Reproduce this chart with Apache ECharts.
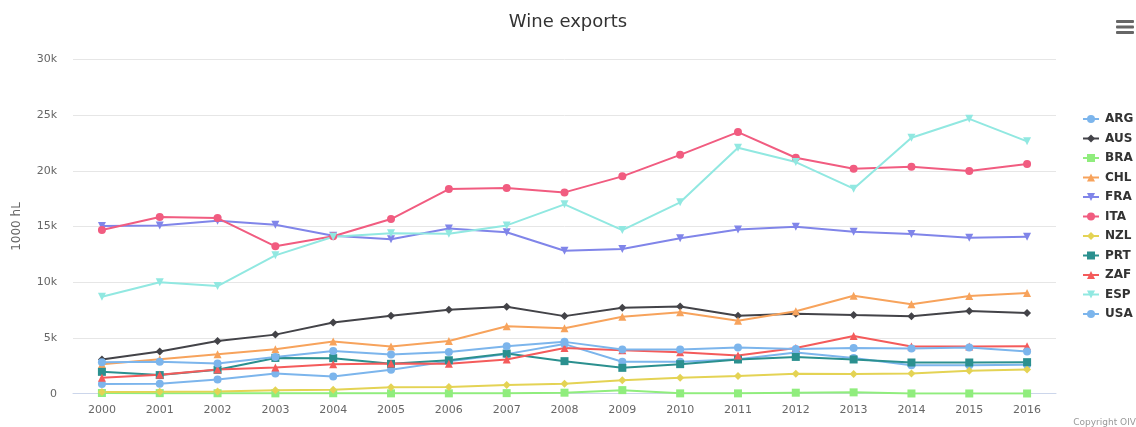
<!DOCTYPE html>
<html>
<head>
<meta charset="utf-8">
<title>Wine exports</title>
<script src="https://cdn.jsdelivr.net/npm/echarts@6/dist/echarts.min.js"></script>
<style>
  html, body { margin: 0; padding: 0; background: #fff; }
  #chart { width: 1136px; height: 427px; }
</style>
</head>
<body>
<div id="chart"></div>
<script>
// Wine exports by country, in thousands of hectolitres
const years = ['2000','2001','2002','2003','2004','2005','2006','2007','2008',
               '2009','2010','2011','2012','2013','2014','2015','2016'];

const ARG = [870, 890, 1280, 1820, 1550, 2140, 2900, 3550, 4450, 2860, 2860, 3100, 3700, 3210, 2560, 2560, 2600];
const AUS = [3070, 3790, 4730, 5300, 6380, 7000, 7540, 7800, 6960, 7710, 7830, 7000, 7180, 7050, 6940, 7410, 7230];
const BRA = [60, 50, 40, 30, 40, 30, 30, 50, 90, 320, 30, 30, 90, 120, 20, 20, 20];
const CHL = [2650, 3100, 3540, 3990, 4680, 4230, 4730, 6050, 5870, 6910, 7300, 6550, 7390, 8790, 8020, 8760, 9030];
const FRA = [15040, 15100, 15520, 15160, 14170, 13850, 14830, 14480, 12830, 12980, 13940, 14740, 14980, 14530, 14320, 13990, 14080];
const ITA = [14680, 15850, 15760, 13220, 14120, 15670, 18360, 18450, 18060, 19500, 21430, 23470, 21170, 20180, 20360, 19970, 20600];
const NZL = [150, 170, 200, 300, 360, 570, 600, 780, 890, 1200, 1430, 1580, 1790, 1760, 1820, 2050, 2180];
const PRT = [1960, 1670, 2140, 3210, 3190, 2680, 3000, 3600, 2920, 2320, 2650, 3070, 3300, 3070, 2800, 2800, 2830];
const ZAF = [1430, 1700, 2170, 2360, 2650, 2710, 2680, 3070, 4100, 3900, 3720, 3430, 4100, 5180, 4230, 4230, 4260];
const ESP = [8700, 9990, 9660, 12410, 14080, 14390, 14350, 15100, 16990, 14680, 17170, 22060, 20780, 18390, 22960, 24660, 22640];
const USA = [2830, 2860, 2710, 3300, 3840, 3520, 3750, 4260, 4650, 3960, 3960, 4150, 4000, 4110, 4050, 4140, 3790];

const yTicks = [0, 5000, 10000, 15000, 20000, 25000, 30000];

const triDown = 'path://M0,0 L10,0 L5,10 Z';

const seriesDefs = [
  { name: 'ARG', data: ARG, color: '#7cb5ec', symbol: 'circle' },
  { name: 'AUS', data: AUS, color: '#434348', symbol: 'diamond' },
  { name: 'BRA', data: BRA, color: '#90ed7d', symbol: 'rect' },
  { name: 'CHL', data: CHL, color: '#f7a35c', symbol: 'triangle' },
  { name: 'FRA', data: FRA, color: '#8085e9', symbol: triDown },
  { name: 'ITA', data: ITA, color: '#f15c80', symbol: 'circle' },
  { name: 'NZL', data: NZL, color: '#e4d354', symbol: 'diamond' },
  { name: 'PRT', data: PRT, color: '#2b908f', symbol: 'rect' },
  { name: 'ZAF', data: ZAF, color: '#f45b5b', symbol: 'triangle' },
  { name: 'ESP', data: ESP, color: '#91e8e1', symbol: triDown },
  { name: 'USA', data: USA, color: '#7cb5ec', symbol: 'circle' }
];

const FONT = '"DejaVu Sans", "Lucida Grande", Arial, sans-serif';

const chart = echarts.init(document.getElementById('chart'), null, { renderer: 'canvas' });

chart.setOption({
  animation: false,
  backgroundColor: '#ffffff',
  textStyle: { fontFamily: FONT },
  title: {
    text: 'Wine exports',
    left: 'center',
    top: 8,
    textStyle: { fontFamily: FONT, fontSize: 18, fontWeight: 'normal', color: '#333333' }
  },
  legend: {
    orient: 'vertical',
    left: 1077,
    top: 108,
    itemWidth: 16,
    itemHeight: 10,
    itemGap: 7.5,
    textStyle: { fontFamily: FONT, fontSize: 12, fontWeight: 'bold', color: '#333333', padding: [0, 0, 0, 1] },
    data: seriesDefs.map(s => s.name)
  },
  grid: { left: 73, right: 80, top: 59.3, bottom: 33.3, containLabel: false },
  xAxis: {
    type: 'category',
    data: years,
    boundaryGap: true,
    axisLine: { show: true, lineStyle: { color: '#ccd6eb', width: 1 } },
    axisTick: { show: false },
    axisLabel: { color: '#666666', fontSize: 11, fontFamily: FONT, margin: 11 },
    splitLine: { show: false }
  },
  yAxis: {
    type: 'value',
    min: yTicks[0],
    max: yTicks[yTicks.length - 1],
    interval: yTicks[1] - yTicks[0],
    name: '1000 hL',
    nameLocation: 'middle',
    nameRotate: 90,
    nameGap: 50,
    nameTextStyle: { color: '#666666', fontSize: 12, fontFamily: FONT },
    axisLine: { show: false },
    axisTick: { show: false },
    axisLabel: {
      color: '#666666', fontSize: 11, fontFamily: FONT, margin: 16,
      formatter: v => (v === 0 ? '0' : (v / 1000) + 'k')
    },
    splitLine: { lineStyle: { color: '#e6e6e6', width: 1 } }
  },
  graphic: [
    // export menu icon
    { type: 'rect', left: 1116, top: 20, shape: { width: 18, height: 3, r: 1 }, style: { fill: '#666666' } },
    { type: 'rect', left: 1116, top: 25.5, shape: { width: 18, height: 3, r: 1 }, style: { fill: '#666666' } },
    { type: 'rect', left: 1116, top: 31, shape: { width: 18, height: 3, r: 1 }, style: { fill: '#666666' } },
    // credits
    { type: 'text', right: 0, top: 418, style: { text: 'Copyright OIV', fill: '#999999', fontSize: 9, fontFamily: FONT } }
  ],
  series: seriesDefs.map(s => ({
    name: s.name,
    type: 'line',
    data: s.data,
    color: s.color,
    symbol: s.symbol,
    symbolSize: 8,
    showAllSymbol: true,
    lineStyle: { width: 2, color: s.color },
    itemStyle: { color: s.color },
    emphasis: { disabled: true }
  }))
});
</script>
</body>
</html>
